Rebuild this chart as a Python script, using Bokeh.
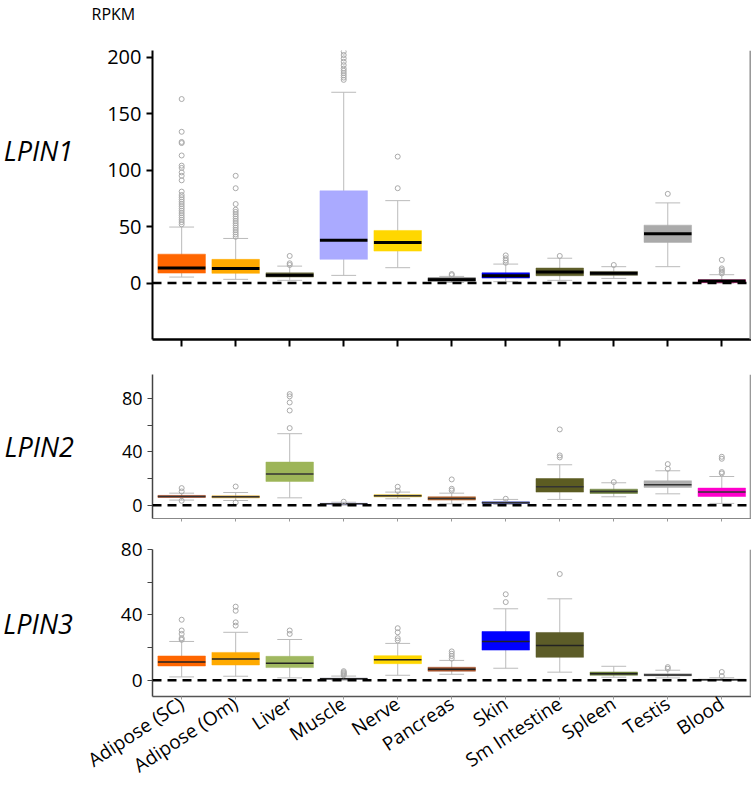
from bokeh.plotting import figure
from bokeh.models import Range1d, FixedTicker, Span, ColumnDataSource
from bokeh.layouts import column
from bokeh.transform import dodge
from bokeh.embed import file_html
from bokeh.resources import INLINE

tissues = ["Adipose (SC)", "Adipose (Om)", "Liver", "Muscle", "Nerve", "Pancreas",
           "Skin", "Sm Intestine", "Spleen", "Testis", "Blood"]

# LPIN1 (RPKM)
lpin1_q1 = [8.8, 8.6, 5.3, 21.0, 28.3, 1.8, 4.4, 6.5, 6.8, 36.0, 0.3]
lpin1_med = [13.3, 13.0, 7.0, 38.0, 36.0, 2.9, 6.5, 9.7, 8.6, 43.6, 1.8]
lpin1_q3 = [25.6, 21.0, 9.1, 81.7, 46.6, 4.7, 9.1, 13.3, 10.3, 51.3, 2.9]
lpin1_lo = [5.3, 3.3, 2.4, 6.8, 13.6, 0.5, 1.2, 2.4, 4.1, 14.5, 0.0]
lpin1_hi = [49.6, 39.5, 15.0, 169.0, 73.0, 5.9, 16.8, 22.0, 14.5, 71.0, 7.4]
lpin1_out = [
    [52, 54, 56, 58, 60, 62, 64, 66, 68, 70, 72, 74, 76, 78, 81, 91, 95, 98, 102, 104, 113, 124, 125, 134, 163],
    [41, 43, 45, 47, 49, 51, 53, 55, 57, 59, 61, 63, 65, 70, 84, 95],
    [16, 17.5, 24],
    [180, 182, 184, 186, 188, 190, 193, 196, 199, 202, 205],
    [84, 112],
    [7, 8],
    [18, 20, 22, 24.5],
    [24],
    [16],
    [79],
    [8.5, 10, 11.5, 13, 20.5],
]

# LPIN2 (RPKM)
lpin2_q1 = [5.8, 5.5, 17.8, 0.5, 6.3, 3.8, 1.3, 9.8, 8.8, 13.3, 6.5]
lpin2_med = [6.5, 6.3, 23.3, 1.0, 7.0, 5.0, 1.8, 13.8, 10.3, 15.3, 9.8]
lpin2_q3 = [7.3, 7.0, 32.3, 1.5, 7.8, 6.3, 2.5, 20.0, 12.0, 18.3, 12.8]
lpin2_lo = [3.8, 3.5, 5.5, 0.0, 4.8, 1.0, 0.5, 4.3, 6.3, 8.5, 1.3]
lpin2_hi = [9.0, 9.5, 53.6, 2.2, 9.8, 9.0, 4.3, 30.3, 16.8, 25.8, 21.5]
lpin2_out = [
    [3.3, 10.3, 12.8],
    [2, 14],
    [57.8, 71, 77, 81.6, 83.3],
    [2.6],
    [10.8, 13.8],
    [11, 12.3, 19.3],
    [4.8],
    [35.8, 37.3, 56.8],
    [17.3],
    [27.3, 30.8],
    [23.8, 24.8, 34.8, 36.3],
]

# LPIN3 (RPKM)
lpin3_q1 = [8.7, 9.3, 7.7, 0.4, 10.1, 5.5, 18.4, 14.0, 3.0, 2.6, 0.0]
lpin3_med = [11.1, 12.9, 10.3, 0.8, 12.5, 6.7, 23.7, 21.3, 4.0, 3.2, 0.3]
lpin3_q3 = [14.8, 17.0, 14.6, 1.3, 15.0, 7.9, 29.8, 29.2, 5.0, 4.0, 0.6]
lpin3_lo = [2.0, 2.4, 1.4, 0.0, 3.0, 3.6, 7.3, 4.9, 1.8, 1.4, 0.0]
lpin3_hi = [23.7, 29.3, 24.9, 2.5, 22.5, 12.1, 43.7, 49.8, 8.5, 6.1, 1.5]
lpin3_out = [
    [24.7, 25.7, 28.3, 30.4, 37],
    [33.4, 35.4, 42.5, 45],
    [28.3, 30.4],
    [3, 3.6, 4.2, 4.8, 5.5],
    [24.3, 25.7, 29.3, 31.8],
    [13.2, 14.8, 16.2, 17.6],
    [47.8, 52.6],
    [65],
    [],
    [7, 8],
    [2.5, 5],
]

lpin1_ticks = [0, 50, 100, 150, 200]
small_ticks = [0, 20, 40, 60, 80]
small_tick_labels = {0: "0", 20: "", 40: "40", 60: "", 80: "80"}

colors1 = ["#FF6600", "#FFAA00", "#6E6E40", "#AAAAFF", "#FFD700", "#555555",
           "#0000EE", "#5E5E2A", "#6E6E50", "#AAAAAA", "#E0208A"]
colors2 = ["#B5471B", "#D49A1A", "#9DB558", "#AAAAFF", "#D4AA00", "#B5652D",
           "#2233AA", "#5C5C22", "#6B7F3A", "#B0B0B0", "#FF00CC"]
colors3 = ["#FF6600", "#FFAA00", "#A0B860", "#9999AA", "#FFD700", "#A0522D",
           "#0000FF", "#5C5C28", "#6B7F3A", "#AAAAAA", "#888888"]

FONT = "Open Sans"
X_START, X_END = -0.54, 10.55


def make_fig(frame_h, y0, y1, top, bottom):
    p = figure(frame_width=599, frame_height=frame_h, output_backend="svg",
               toolbar_location=None, x_range=Range1d(X_START, X_END),
               y_range=Range1d(y0, y1), min_border_left=152, min_border_right=0,
               min_border_top=top, min_border_bottom=bottom)
    p.outline_line_color = None
    p.xgrid.visible = False
    p.ygrid.visible = False
    p.xaxis.ticker = FixedTicker(ticks=list(range(len(tissues))))
    p.xaxis.major_label_overrides = {i: "" for i in range(len(tissues))}
    p.xaxis.minor_tick_line_color = None
    p.yaxis.minor_tick_line_color = None
    p.xaxis.major_tick_in = 0
    p.yaxis.major_tick_in = 0
    p.yaxis.major_label_text_font = FONT
    p.yaxis.major_label_text_color = "black"
    p.xaxis.major_label_text_font = FONT
    p.yaxis.axis_label_text_font = FONT
    p.yaxis.axis_label_text_font_style = "italic"
    p.yaxis.axis_label_text_font_size = "27px"
    p.yaxis.axis_label_text_color = "black"
    try:
        p.yaxis.axis_label_orientation = "horizontal"
    except Exception:
        pass
    return p


def draw(p, q1, med, q3, lo, hi, outs, colors, med_w, med_c):
    src = ColumnDataSource(dict(x=list(range(len(tissues))), q1=q1, med=med, q3=q3,
                                lo=lo, hi=hi, color=colors))
    p.segment(x0="x", y0="lo", x1="x", y1="hi", source=src,
              line_color="#BBBBBB", line_width=1)
    p.segment(x0=dodge("x", -0.23), y0="hi", x1=dodge("x", 0.23), y1="hi",
              source=src, line_color="#BBBBBB", line_width=1)
    p.segment(x0=dodge("x", -0.23), y0="lo", x1=dodge("x", 0.23), y1="lo",
              source=src, line_color="#BBBBBB", line_width=1)
    p.vbar(x="x", width=0.88, bottom="q1", top="q3", source=src,
           fill_color="color", line_color="color", line_width=0.5)
    p.segment(x0=dodge("x", -0.44), y0="med", x1=dodge("x", 0.44), y1="med",
              source=src, line_color=med_c, line_width=med_w)
    ox, oy = [], []
    for i, vals in enumerate(outs):
        for v in vals:
            ox.append(i)
            oy.append(v)
    p.scatter(ox, oy, marker="circle", size=5, fill_color=None,
              line_color="#AAAAAA", line_width=1)
    p.add_layout(Span(location=0, dimension="width", line_color="black",
                      line_width=2.5, line_dash="9 6"))


# ---- LPIN1
p1 = make_fig(289, -50, 206, 49, 15)
draw(p1, lpin1_q1, lpin1_med, lpin1_q3, lpin1_lo, lpin1_hi, lpin1_out, colors1, 3, "black")
p1.yaxis.ticker = FixedTicker(ticks=lpin1_ticks)
p1.yaxis.major_label_text_font_size = "20px"
p1.yaxis.axis_line_width = 2
p1.yaxis.major_tick_line_width = 2
p1.yaxis.major_tick_out = 6
p1.yaxis.axis_label = "LPIN1\n \n "
p1.yaxis.axis_label_standoff = 31
p1.xaxis.axis_line_width = 2.5
p1.xaxis.major_tick_line_width = 2
p1.xaxis.major_tick_out = 7
p1.add_layout(Span(location=10.53, dimension="height", line_color="#999999", line_width=2))
p1.title.text = "RPKM\n "
p1.title.text_font = FONT
p1.title.text_font_size = "16px"
p1.title.text_font_style = "normal"
p1.title.text_color = "black"
p1.title.align = "left"
p1.title.vertical_align = "top"
p1.title.offset = -61
p1.title.standoff = 4

# ---- LPIN2
p2 = make_fig(144, -10, 98, 20, 15)
draw(p2, lpin2_q1, lpin2_med, lpin2_q3, lpin2_lo, lpin2_hi, lpin2_out, colors2, 1.5, "#333333")
p2.yaxis.ticker = FixedTicker(ticks=small_ticks)
p2.yaxis.major_label_overrides = small_tick_labels
p2.yaxis.major_label_text_font_size = "18px"
p2.yaxis.axis_line_color = "#444444"
p2.yaxis.axis_line_width = 1.5
p2.yaxis.major_tick_line_color = "#444444"
p2.yaxis.major_tick_out = 5
p2.yaxis.axis_label = "LPIN2"
p2.yaxis.axis_label_standoff = 45
p2.xaxis.axis_line_color = "#888888"
p2.xaxis.major_tick_line_color = "#999999"
p2.xaxis.major_tick_out = 3
p2.add_layout(Span(location=10.53, dimension="height", line_color="#999999", line_width=1.5))

# ---- LPIN3
p3 = make_fig(147, -10, 80, 16, 93)
draw(p3, lpin3_q1, lpin3_med, lpin3_q3, lpin3_lo, lpin3_hi, lpin3_out, colors3, 1.5, "#222222")
p3.yaxis.ticker = FixedTicker(ticks=small_ticks)
p3.yaxis.major_label_overrides = small_tick_labels
p3.yaxis.major_label_text_font_size = "19px"
p3.yaxis.axis_line_color = "#444444"
p3.yaxis.axis_line_width = 1.5
p3.yaxis.major_tick_line_color = "#444444"
p3.yaxis.major_tick_out = 5
p3.yaxis.axis_label = "LPIN3"
p3.yaxis.axis_label_standoff = 45
p3.xaxis.major_label_overrides = {i: t for i, t in enumerate(tissues)}
p3.xaxis.major_label_text_font_size = "19px"
p3.xaxis.major_label_text_color = "black"
p3.xaxis.major_label_orientation = 0.58
p3.xaxis.major_label_standoff = 2
p3.xaxis.axis_line_color = "#555555"
p3.xaxis.axis_line_width = 1.5
p3.xaxis.major_tick_line_color = "#999999"
p3.xaxis.major_tick_out = 3
p3.add_layout(Span(location=10.53, dimension="height", line_color="#999999", line_width=1.5))

layout = column(p1, p2, p3, spacing=0)
open("out.html", "w").write(file_html(layout, INLINE))
